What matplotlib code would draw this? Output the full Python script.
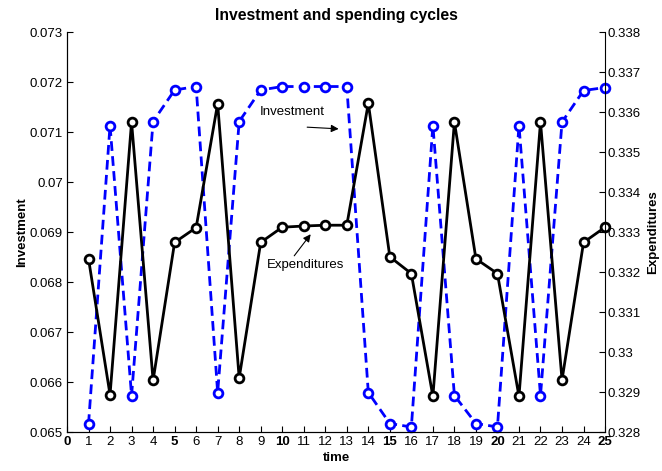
import numpy as np
import matplotlib
matplotlib.use('Agg')
import matplotlib.pyplot as plt

plt.rcParams['font.family'] = ['Liberation Sans', 'DejaVu Sans']

time = list(range(1, 26))

investment = [0.06516, 0.07113, 0.06573, 0.07121, 0.07184, 0.07191, 0.06579,
              0.07121, 0.07184, 0.07191, 0.07191, 0.07191, 0.07191, 0.06579,
              0.06517, 0.06510, 0.07113, 0.06573, 0.06517, 0.06510, 0.07113,
              0.06573, 0.07120, 0.07183, 0.07189]

expenditures = [0.33233, 0.32893, 0.33575, 0.32929, 0.33274, 0.33311, 0.33621,
                0.32935, 0.33274, 0.33312, 0.33315, 0.33317, 0.33317, 0.33622,
                0.33238, 0.33196, 0.32889, 0.33575, 0.33233, 0.33196, 0.32889,
                0.33575, 0.32930, 0.33274, 0.33312]

xticks = list(range(0, 26))
left_ticks = [0.065, 0.066, 0.067, 0.068, 0.069, 0.07, 0.071, 0.072, 0.073]
left_labels = ['0.065', '0.066', '0.067', '0.068', '0.069', '0.07', '0.071', '0.072', '0.073']
right_ticks = [0.328, 0.329, 0.33, 0.331, 0.332, 0.333, 0.334, 0.335, 0.336, 0.337, 0.338]
right_labels = ['0.328', '0.329', '0.33', '0.331', '0.332', '0.333', '0.334', '0.335', '0.336', '0.337', '0.338']

fig = plt.figure(figsize=(6.62, 4.71), dpi=100)
ax = fig.add_axes([0.1012, 0.0828, 0.8128, 0.8492])
ax2 = ax.twinx()

ax.plot(time, investment, color='#0000ff', lw=2, ls=(0, (3.5, 1.9)), marker='o',
        ms=6.3, mfc='white', mec='#0000ff', mew=2, clip_on=False)
ax2.plot(time, expenditures, color='black', lw=2, marker='o',
         ms=6.3, mfc='white', mec='black', mew=2, clip_on=False)

ax.set_xlim(0, 25)
ax.set_ylim(0.065, 0.073)
ax2.set_ylim(0.328, 0.338)

ax.set_xticks(xticks)
ax.set_xticklabels([str(t) for t in xticks], fontsize=9.5)
for t, lab in zip(xticks, ax.get_xticklabels()):
    if t % 5 == 0:
        lab.set_fontweight('bold')
ax.set_yticks(left_ticks)
ax.set_yticklabels(left_labels, fontsize=9.5)
ax2.set_yticks(right_ticks)
ax2.set_yticklabels(right_labels, fontsize=9.5)

ax.tick_params(direction='in', length=4, width=0.8, pad=3)
ax2.tick_params(direction='in', length=4, width=0.8, pad=2)
for a in (ax, ax2):
    a.spines['top'].set_visible(False)
ax.spines['right'].set_visible(False)

ax.set_xlabel('time', fontsize=9.5, fontweight='bold', labelpad=3)
ax.set_ylabel('Investment', fontsize=9.5, fontweight='bold', labelpad=1)
ax2.set_ylabel('Expenditures', fontsize=9.5, fontweight='bold', labelpad=4)
ax.set_title('Investment and spending cycles', fontsize=11.3, fontweight='bold', pad=9)

ax.text(10.45, 0.07141, 'Investment', fontsize=9.5, ha='center', va='center')
ax.annotate('', xy=(12.75, 0.07106), xytext=(11.03, 0.07110),
            arrowprops=dict(arrowstyle='-|>', color='black', lw=0.8, mutation_scale=11))
ax.text(11.1, 0.06834, 'Expenditures', fontsize=9.5, ha='center', va='center')
ax.annotate('', xy=(11.4, 0.06900), xytext=(10.48, 0.06848),
            arrowprops=dict(arrowstyle='-|>', color='black', lw=0.8, mutation_scale=11))

fig.savefig('out.png', dpi=100)
